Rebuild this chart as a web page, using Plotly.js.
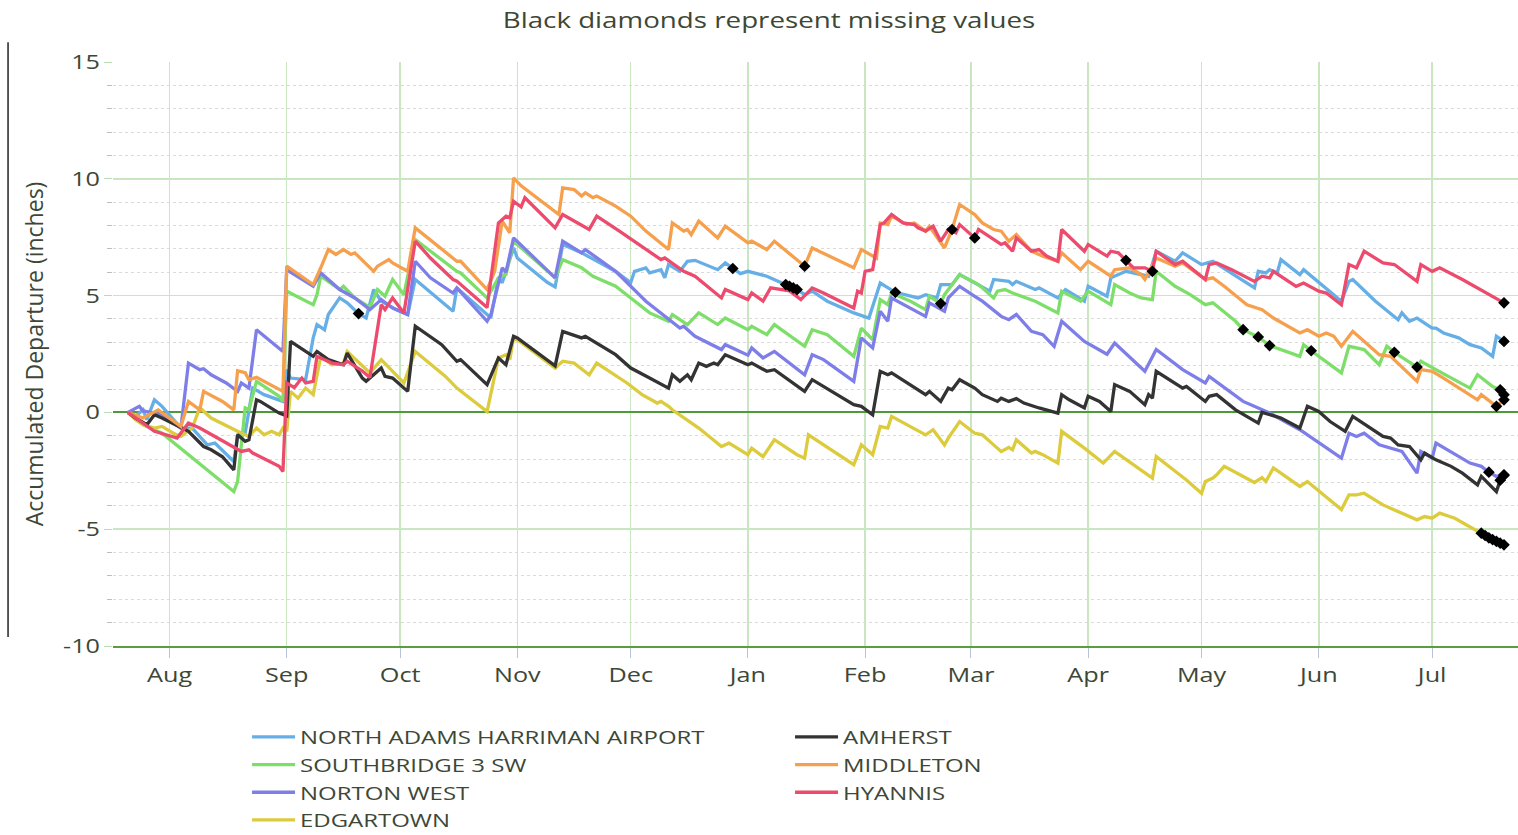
<!DOCTYPE html>
<html><head><meta charset="utf-8">
<script src="https://cdn.plot.ly/plotly-3.0.1.min.js"></script>
<style>html,body{margin:0;padding:0;background:#fff}#chart{width:1518px;height:835px}</style>
</head><body><div id="chart"></div>
<script>
// ---- NORTH ADAMS HARRIMAN AIRPORT ----
const naDates=["2016-07-21","2016-07-23","2016-07-25","2016-07-26","2016-07-28","2016-07-30","2016-08-04","2016-08-07","2016-08-11","2016-08-13","2016-08-18","2016-08-19","2016-08-21","2016-08-23","2016-08-26","2016-08-31",
"2016-09-01","2016-09-02","2016-09-06","2016-09-08","2016-09-09","2016-09-11","2016-09-12","2016-09-15","2016-09-17","2016-09-20","2016-09-22","2016-09-24","2016-09-26","2016-09-30",
"2016-10-03","2016-10-05","2016-10-15","2016-10-16","2016-10-24","2016-10-25","2016-10-27","2016-10-28","2016-10-31",
"2016-11-01","2016-11-09","2016-11-11","2016-11-13","2016-11-18","2016-11-27",
"2016-12-01","2016-12-02","2016-12-05","2016-12-06","2016-12-09","2016-12-10","2016-12-11","2016-12-14","2016-12-16","2016-12-18","2016-12-24","2016-12-26","2016-12-28","2016-12-30",
"2017-01-01","2017-01-06","2017-01-10","2017-01-11","2017-01-12","2017-01-13","2017-01-14","2017-01-16","2017-01-18","2017-01-22","2017-01-29",
"2017-02-02","2017-02-05","2017-02-09","2017-02-15","2017-02-17","2017-02-20","2017-02-21","2017-02-24","2017-02-26",
"2017-03-03","2017-03-06","2017-03-07","2017-03-11","2017-03-12","2017-03-13","2017-03-18","2017-03-19","2017-03-24","2017-03-26","2017-03-31",
"2017-04-01","2017-04-06","2017-04-07","2017-04-11","2017-04-15","2017-04-17","2017-04-19","2017-04-24","2017-04-26",
"2017-05-01","2017-05-04","2017-05-09","2017-05-15","2017-05-16","2017-05-18","2017-05-19","2017-05-21","2017-05-22","2017-05-27","2017-05-28",
"2017-06-07","2017-06-09","2017-06-10","2017-06-16","2017-06-22","2017-06-23","2017-06-25","2017-06-27",
"2017-07-01","2017-07-02","2017-07-04","2017-07-08","2017-07-11","2017-07-14","2017-07-17","2017-07-18","2017-07-20"];
const naValues=[0,-0.17,0.11,-0.31,0.54,0.26,-0.67,-0.67,-1.39,-1.31,-2.10,-0.96,-0.89,1.04,0.76,0.47,
1.83,1.47,1.40,3.19,3.76,3.54,4.19,4.90,4.69,4.23,4.04,5.26,4.76,4.40,
4.19,5.69,4.33,5.33,4.19,4.05,5.76,5.55,7.04,
6.61,5.56,5.37,7.19,6.83,6.04,
5.56,6.04,6.19,5.97,6.11,5.76,6.33,6.04,6.47,6.51,6.11,6.40,6.16,5.94,
6.04,5.83,5.54,5.47,5.40,5.33,5.26,5.04,5.19,4.76,4.26,
4.04,5.54,5.14,4.90,5.04,4.90,5.47,5.47,5.90,
5.47,5.19,5.69,5.61,5.47,5.61,5.26,5.33,4.90,5.26,4.76,
5.40,4.97,5.76,6.04,5.90,5.83,6.90,6.47,6.83,
6.33,6.47,5.97,5.33,6.04,5.97,6.11,5.97,6.54,5.90,6.11,
4.76,5.61,5.69,4.76,3.97,4.26,3.90,4.04,
3.61,3.61,3.40,3.19,2.90,2.76,2.40,3.26,3.04];

// ---- SOUTHBRIDGE 3 SW ----
const sbDates=["2016-07-21","2016-07-25","2016-07-30","2016-08-05","2016-08-12","2016-08-18","2016-08-19","2016-08-21","2016-08-22","2016-08-24","2016-08-30","2016-08-31",
"2016-09-01","2016-09-08","2016-09-09","2016-09-10","2016-09-15","2016-09-16","2016-09-19","2016-09-23","2016-09-25","2016-09-27","2016-09-29",
"2016-10-02","2016-10-05","2016-10-16","2016-10-17","2016-10-24","2016-10-27","2016-10-29","2016-10-31",
"2016-11-01","2016-11-11","2016-11-13","2016-11-18","2016-11-21","2016-11-27",
"2016-12-01","2016-12-06","2016-12-11","2016-12-12","2016-12-16","2016-12-19","2016-12-24","2016-12-26",
"2017-01-01","2017-01-02","2017-01-06","2017-01-08","2017-01-16","2017-01-18","2017-01-22","2017-01-29","2017-01-31",
"2017-02-03","2017-02-05","2017-02-07","2017-02-08","2017-02-13","2017-02-17","2017-02-18","2017-02-21","2017-02-22","2017-02-26",
"2017-03-03","2017-03-07","2017-03-08","2017-03-10","2017-03-12","2017-03-18","2017-03-24","2017-03-25","2017-03-30",
"2017-04-01","2017-04-07","2017-04-08","2017-04-12","2017-04-15","2017-04-18","2017-04-19","2017-04-24","2017-04-28",
"2017-05-02","2017-05-04","2017-05-10","2017-05-12","2017-05-16","2017-05-19","2017-05-22","2017-05-27","2017-05-28","2017-05-30",
"2017-06-07","2017-06-09","2017-06-13","2017-06-17","2017-06-19","2017-06-21","2017-06-27","2017-06-28",
"2017-07-02","2017-07-11","2017-07-13","2017-07-17","2017-07-19","2017-07-20"];
const sbValues=[0,-0.53,-0.89,-1.67,-2.60,-3.39,-2.96,0.19,0.12,1.33,0.69,0.47,
5.19,4.61,5.04,5.83,5.26,5.40,4.90,4.49,5.26,4.97,5.69,
5.04,7.40,6.04,5.97,4.90,5.76,5.90,7.33,
7.19,5.76,6.54,6.19,5.83,5.40,
4.90,4.26,3.90,4.19,3.76,4.26,3.76,4.04,
3.54,3.69,3.33,3.76,2.83,3.54,3.33,2.40,3.61,
3.11,4.83,4.61,5.11,4.76,4.40,4.97,4.66,5.04,5.90,
5.47,4.90,5.19,5.26,5.11,4.76,4.26,5.19,4.76,
5.19,4.61,5.47,5.11,4.90,4.83,6.04,5.40,5.04,
4.61,4.69,3.90,3.54,3.23,2.86,2.69,2.40,2.90,2.64,
1.69,2.83,2.69,2.04,2.83,2.57,1.94,2.19,
1.83,1.04,1.61,1.11,0.97,0.76];

// ---- NORTON WEST ----
const nwDates=["2016-07-21","2016-07-24","2016-07-25","2016-07-30","2016-08-04","2016-08-06","2016-08-09","2016-08-10","2016-08-12","2016-08-16","2016-08-19","2016-08-20","2016-08-22","2016-08-24","2016-08-31",
"2016-09-01","2016-09-08","2016-09-10","2016-09-15","2016-09-19","2016-09-23","2016-09-26","2016-09-29",
"2016-10-03","2016-10-05","2016-10-09","2016-10-15","2016-10-16","2016-10-24","2016-10-25","2016-10-28","2016-10-29","2016-10-31",
"2016-11-11","2016-11-13","2016-11-18","2016-11-19","2016-11-27",
"2016-12-05","2016-12-11","2016-12-14","2016-12-15","2016-12-18","2016-12-25","2016-12-26",
"2017-01-01","2017-01-02","2017-01-05","2017-01-08","2017-01-16","2017-01-18","2017-01-21","2017-01-29","2017-01-31",
"2017-02-03","2017-02-05","2017-02-07","2017-02-08","2017-02-13","2017-02-17","2017-02-18","2017-02-22","2017-02-23","2017-02-26",
"2017-03-02","2017-03-04","2017-03-09","2017-03-11","2017-03-13","2017-03-17","2017-03-20","2017-03-23","2017-03-25","2017-03-31",
"2017-04-06","2017-04-08","2017-04-16","2017-04-19","2017-04-26",
"2017-05-02","2017-05-03","2017-05-12","2017-05-16","2017-05-19","2017-05-27",
"2017-06-07","2017-06-09","2017-06-11","2017-06-13","2017-06-17","2017-06-23","2017-06-27","2017-06-28",
"2017-07-01","2017-07-02","2017-07-11","2017-07-14","2017-07-16","2017-07-18","2017-07-20"];
const nwValues=[0,0.26,0.07,-0.10,-0.67,2.11,1.83,1.87,1.61,1.26,0.90,1.26,1.04,3.54,2.61,
6.10,5.40,5.97,5.26,4.90,4.40,4.83,4.47,
4.19,6.47,5.76,5.11,5.33,3.90,4.19,6.19,6.00,7.47,
5.76,7.33,6.83,6.97,6.04,
4.76,3.97,3.61,3.69,3.26,2.69,2.90,
2.45,2.76,2.33,2.61,1.61,2.47,2.26,1.33,3.19,
2.76,4.33,3.90,4.90,4.47,4.11,4.69,4.33,4.90,5.40,
4.97,4.76,4.11,3.97,4.19,3.47,3.33,2.83,3.90,3.04,
2.49,2.97,1.76,2.69,1.83,
1.26,1.54,0.47,0.19,-0.03,-0.74,
-1.96,-0.89,-1.03,-0.89,-1.39,-1.67,-2.60,-1.67,
-1.96,-1.31,-2.17,-2.31,-2.56,-2.74,-2.67];

// ---- EDGARTOWN ----
const edDates=["2016-07-21","2016-07-23","2016-07-25","2016-07-28","2016-07-30","2016-08-02","2016-08-04","2016-08-07","2016-08-09","2016-08-12","2016-08-19","2016-08-22","2016-08-24","2016-08-26","2016-08-28","2016-08-30","2016-08-31",
"2016-09-01","2016-09-02","2016-09-04","2016-09-06","2016-09-08","2016-09-10","2016-09-13","2016-09-16","2016-09-17","2016-09-23","2016-09-26",
"2016-10-02","2016-10-05","2016-10-13","2016-10-16","2016-10-24","2016-10-27","2016-10-29","2016-10-30","2016-10-31",
"2016-11-02","2016-11-11","2016-11-13","2016-11-16","2016-11-20","2016-11-22","2016-11-30",
"2016-12-04","2016-12-08","2016-12-09","2016-12-11","2016-12-12","2016-12-19","2016-12-25","2016-12-27",
"2017-01-01","2017-01-02","2017-01-05","2017-01-08","2017-01-14","2017-01-16","2017-01-17","2017-01-29","2017-01-31",
"2017-02-03","2017-02-05","2017-02-07","2017-02-08","2017-02-12","2017-02-13","2017-02-17","2017-02-19","2017-02-22","2017-02-23","2017-02-26",
"2017-03-02","2017-03-04","2017-03-07","2017-03-09","2017-03-11","2017-03-12","2017-03-13","2017-03-17","2017-03-18","2017-03-20","2017-03-24","2017-03-25","2017-03-31",
"2017-04-05","2017-04-08","2017-04-18","2017-04-19","2017-04-27",
"2017-05-01","2017-05-02","2017-05-04","2017-05-05","2017-05-07","2017-05-15","2017-05-17","2017-05-18","2017-05-20","2017-05-27","2017-05-29",
"2017-06-07","2017-06-09","2017-06-11","2017-06-13","2017-06-18","2017-06-27","2017-06-29",
"2017-07-01","2017-07-03","2017-07-07","2017-07-13","2017-07-14","2017-07-15","2017-07-16","2017-07-17","2017-07-18","2017-07-19","2017-07-20"];
const edValues=[0,-0.31,-0.53,-0.67,-0.60,-0.89,-1.03,-0.67,0.20,-0.24,-0.81,-1.03,-0.67,-0.96,-0.81,-0.96,-0.67,
-0.81,0.90,0.61,1.04,0.76,2.40,2.04,2.11,2.61,1.69,2.26,
1.26,2.61,1.54,1.04,0.04,2.33,2.47,2.26,3.19,
3.00,1.90,2.19,2.11,1.61,2.11,1.26,
0.76,0.40,0.47,0.26,0.11,-0.67,-1.46,-1.31,
-1.81,-1.53,-1.89,-1.17,-1.81,-1.96,-0.96,-2.24,-1.39,
-1.81,-0.60,-0.67,-0.17,-0.53,-0.60,-0.96,-0.74,-1.39,-1.10,-0.39,
-0.89,-0.96,-1.39,-1.67,-1.50,-1.60,-1.17,-1.74,-1.67,-1.81,-2.17,-0.81,-1.53,
-2.17,-1.67,-2.81,-1.89,-2.89,
-3.46,-2.96,-2.81,-2.67,-2.31,-3.00,-2.79,-2.96,-2.38,-3.17,-2.96,
-4.16,-3.53,-3.53,-3.46,-3.96,-4.60,-4.46,
-4.53,-4.31,-4.53,-5.10,-5.17,-5.27,-5.37,-5.45,-5.52,-5.60,-5.67];

// ---- AMHERST ----
const amDates=["2016-07-21","2016-07-23","2016-07-26","2016-07-28","2016-07-30","2016-08-04","2016-08-06","2016-08-10","2016-08-12","2016-08-15","2016-08-18","2016-08-19","2016-08-21","2016-08-22","2016-08-24","2016-08-25","2016-08-30",
"2016-09-01","2016-09-02","2016-09-08","2016-09-09","2016-09-12","2016-09-16","2016-09-17","2016-09-21","2016-09-22","2016-09-26","2016-09-27","2016-09-29",
"2016-10-03","2016-10-05","2016-10-12","2016-10-16","2016-10-17","2016-10-24","2016-10-27","2016-10-29","2016-10-31",
"2016-11-01","2016-11-11","2016-11-13","2016-11-18","2016-11-19","2016-11-27",
"2016-12-01","2016-12-05","2016-12-11","2016-12-12","2016-12-14","2016-12-16","2016-12-17","2016-12-19","2016-12-21","2016-12-23","2016-12-24","2016-12-26",
"2017-01-01","2017-01-02","2017-01-06","2017-01-08","2017-01-16","2017-01-18","2017-01-29","2017-01-31",
"2017-02-03","2017-02-05","2017-02-07","2017-02-08","2017-02-17","2017-02-18","2017-02-21","2017-02-23","2017-02-24","2017-02-26",
"2017-03-02","2017-03-04","2017-03-06","2017-03-08","2017-03-09","2017-03-11","2017-03-13","2017-03-15","2017-03-19","2017-03-24","2017-03-25","2017-03-27","2017-03-31",
"2017-04-01","2017-04-04","2017-04-07","2017-04-08","2017-04-12","2017-04-16","2017-04-17","2017-04-18","2017-04-19","2017-04-26","2017-04-27",
"2017-05-02","2017-05-03","2017-05-05","2017-05-10","2017-05-16","2017-05-17","2017-05-22","2017-05-27","2017-05-29",
"2017-06-01","2017-06-04","2017-06-08","2017-06-10","2017-06-12","2017-06-18","2017-06-20","2017-06-22","2017-06-25","2017-06-28","2017-06-29",
"2017-07-02","2017-07-06","2017-07-09","2017-07-13","2017-07-14","2017-07-18","2017-07-19","2017-07-20"];
const amValues=[0,-0.24,-0.53,-0.10,-0.24,-0.67,-0.81,-1.46,-1.60,-1.90,-2.46,-0.96,-1.24,-1.17,0.54,0.47,-0.03,
-0.15,3.04,2.40,2.61,2.26,2.04,2.54,1.47,1.33,1.90,1.54,1.47,
0.90,3.69,2.90,2.19,2.26,1.19,2.33,2.04,3.26,
3.19,1.99,3.47,3.19,3.26,2.47,
1.90,1.56,1.04,1.61,1.33,1.61,1.40,2.11,1.97,2.11,2.04,2.47,
2.04,2.11,1.76,1.83,0.90,1.40,0.33,0.26,
-0.10,1.76,1.61,1.69,0.76,0.90,0.47,1.04,0.97,1.40,
1.04,0.76,0.61,0.47,0.61,0.47,0.59,0.40,0.19,-0.03,0.76,0.54,0.19,
0.69,0.47,0.04,1.19,0.90,0.33,0.76,0.61,1.76,1.04,1.11,
0.47,0.69,0.76,0.11,-0.46,0.00,-0.24,-0.67,0.26,
0.04,-0.39,-0.81,-0.17,-0.39,-1.03,-1.10,-1.39,-1.46,-2.03,-1.74,
-2.03,-2.31,-2.60,-3.10,-2.74,-3.39,-2.90,-2.70];

// ---- MIDDLETON ----
const miDates=["2016-07-21","2016-07-25","2016-07-29","2016-08-04","2016-08-06","2016-08-09","2016-08-10","2016-08-15","2016-08-18","2016-08-19","2016-08-21","2016-08-22","2016-08-24","2016-08-31",
"2016-09-01","2016-09-08","2016-09-10","2016-09-12","2016-09-14","2016-09-16","2016-09-18","2016-09-19","2016-09-24","2016-09-25","2016-09-28","2016-09-29",
"2016-10-03","2016-10-05","2016-10-16","2016-10-17","2016-10-24","2016-10-26","2016-10-28","2016-10-30","2016-10-31",
"2016-11-02","2016-11-12","2016-11-13","2016-11-16","2016-11-18","2016-11-19","2016-11-21","2016-11-22","2016-11-27",
"2016-12-01","2016-12-05","2016-12-11","2016-12-12","2016-12-15","2016-12-16","2016-12-17","2016-12-19","2016-12-24","2016-12-26",
"2017-01-01","2017-01-02","2017-01-06","2017-01-08","2017-01-16","2017-01-18","2017-01-29","2017-01-31",
"2017-02-04","2017-02-05","2017-02-07","2017-02-08","2017-02-12","2017-02-14","2017-02-17","2017-02-18","2017-02-22","2017-02-24","2017-02-26",
"2017-03-02","2017-03-04","2017-03-07","2017-03-09","2017-03-11","2017-03-13","2017-03-17","2017-03-20","2017-03-24","2017-03-25","2017-03-30",
"2017-04-01","2017-04-07","2017-04-08","2017-04-12","2017-04-15","2017-04-16","2017-04-19","2017-04-24","2017-04-26",
"2017-05-02","2017-05-04","2017-05-07","2017-05-13","2017-05-17","2017-05-20","2017-05-27","2017-05-29",
"2017-06-01","2017-06-03","2017-06-05","2017-06-07","2017-06-10","2017-06-12","2017-06-17","2017-06-20","2017-06-27","2017-06-28",
"2017-07-01","2017-07-04","2017-07-06","2017-07-13","2017-07-14","2017-07-18","2017-07-20"];
const miValues=[0,-0.24,0.11,-0.60,0.47,0.11,0.90,0.47,0.11,1.78,1.70,1.40,1.50,0.90,
6.26,5.47,6.19,6.97,6.76,6.97,6.76,6.83,6.04,6.26,6.54,6.40,
6.04,7.90,6.47,6.47,5.26,6.04,8.19,7.69,10.04,
9.70,8.47,9.61,9.54,9.26,9.40,9.19,9.26,8.83,
8.40,7.76,6.97,8.11,7.76,7.83,7.61,8.19,7.47,7.97,
7.26,7.33,6.97,7.33,6.26,7.04,6.19,6.97,
6.61,8.11,8.04,8.40,8.04,8.11,7.76,7.97,7.04,7.83,8.90,
8.47,8.11,7.83,7.76,7.33,7.61,6.90,6.69,6.47,6.83,6.11,
6.47,5.83,6.11,6.19,5.90,5.69,6.61,6.26,6.40,
5.69,5.76,5.40,4.61,4.40,4.04,3.40,3.54,
3.26,3.40,3.26,2.83,3.47,3.19,2.47,2.40,1.33,1.83,
1.76,1.47,1.26,0.54,0.76,0.26,0.54];

// ---- HYANNIS ----
const hyDates=["2016-07-21","2016-07-28","2016-08-03","2016-08-06","2016-08-07","2016-08-09","2016-08-13","2016-08-18","2016-08-20","2016-08-22","2016-08-23","2016-08-30","2016-08-31",
"2016-09-01","2016-09-03","2016-09-05","2016-09-06","2016-09-08","2016-09-09","2016-09-13","2016-09-16","2016-09-17","2016-09-21","2016-09-23","2016-09-26","2016-09-27","2016-09-29",
"2016-10-02","2016-10-05","2016-10-09","2016-10-15","2016-10-16","2016-10-24","2016-10-27","2016-10-29","2016-10-30","2016-10-31",
"2016-11-02","2016-11-03","2016-11-11","2016-11-13","2016-11-20","2016-11-22","2016-11-28",
"2016-12-07","2016-12-09","2016-12-10","2016-12-15","2016-12-18","2016-12-25","2016-12-26",
"2017-01-01","2017-01-02","2017-01-05","2017-01-07","2017-01-12","2017-01-15","2017-01-18","2017-01-21","2017-01-29","2017-01-30","2017-01-31",
"2017-02-01","2017-02-03","2017-02-05","2017-02-06","2017-02-08","2017-02-11","2017-02-14","2017-02-15","2017-02-17","2017-02-19","2017-02-21","2017-02-23","2017-02-25","2017-02-26",
"2017-03-02","2017-03-03","2017-03-09","2017-03-10","2017-03-12","2017-03-13","2017-03-17","2017-03-19","2017-03-21","2017-03-24","2017-03-25","2017-03-31",
"2017-04-01","2017-04-06","2017-04-07","2017-04-09","2017-04-11","2017-04-13","2017-04-16","2017-04-18","2017-04-19","2017-04-24","2017-04-26",
"2017-05-02","2017-05-03","2017-05-05","2017-05-09","2017-05-15","2017-05-17","2017-05-19","2017-05-20","2017-05-26","2017-05-28",
"2017-06-01","2017-06-03","2017-06-07","2017-06-09","2017-06-11","2017-06-13","2017-06-18","2017-06-21","2017-06-27","2017-06-28",
"2017-07-01","2017-07-03","2017-07-09","2017-07-20"];
const hyValues=[0,-0.81,-1.10,-0.46,-0.53,-0.67,-1.03,-1.46,-1.67,-1.60,-1.74,-2.31,-2.53,
1.26,1.06,1.47,1.26,1.33,2.40,2.11,2.04,2.19,1.77,1.49,4.61,4.40,4.90,
4.26,7.33,6.61,5.69,5.62,4.49,8.11,8.40,8.33,9.04,
8.80,9.19,7.90,8.47,7.83,8.40,7.76,
6.76,6.54,6.61,6.04,5.83,4.90,5.26,
4.83,5.11,4.76,5.33,5.20,4.83,5.33,5.11,4.47,5.19,5.11,
6.04,6.11,8.04,8.11,8.47,8.11,8.04,7.90,7.76,7.97,7.33,7.83,7.69,8.04,
7.47,7.83,7.19,7.26,6.90,7.47,6.90,6.97,6.69,6.47,7.83,6.90,
7.19,6.69,6.90,6.83,6.51,6.19,6.19,6.04,6.90,6.33,6.47,
5.69,6.33,6.40,6.11,5.61,5.83,5.76,6.04,5.40,5.54,
5.19,5.11,4.61,6.33,6.19,6.90,6.40,6.33,5.61,6.33,
6.04,6.19,5.69,4.69];

// ---- missing values (black diamonds) ----
const missingDates=["2016-09-20","2016-12-28","2017-01-11","2017-01-12","2017-01-13","2017-01-14","2017-02-09","2017-07-20",
"2017-01-16","2017-02-24","2017-07-18","2017-07-20",
"2017-03-02","2017-04-11","2017-04-18","2017-07-20",
"2017-02-21","2017-05-12","2017-05-16","2017-05-19","2017-05-30","2017-06-21","2017-06-27","2017-07-19","2017-07-20",
"2017-07-16","2017-07-20",
"2017-07-19","2017-07-20",
"2017-07-14","2017-07-15","2017-07-16","2017-07-17","2017-07-18","2017-07-19","2017-07-20"];
const missingValues=[4.23,6.16,5.47,5.40,5.33,5.26,5.14,3.04,
6.26,7.83,0.26,0.54,
7.47,6.51,6.04,4.69,
4.66,3.54,3.23,2.86,2.64,2.57,1.94,0.97,0.76,
-2.56,-2.67,
-2.90,-2.70,
-5.17,-5.27,-5.37,-5.45,-5.52,-5.60,-5.67];

const stationNames=["NORTH ADAMS HARRIMAN AIRPORT","SOUTHBRIDGE 3 SW","NORTON WEST","EDGARTOWN","AMHERST","MIDDLETON","HYANNIS"];
const stationDates=[naDates,sbDates,nwDates,edDates,amDates,miDates,hyDates];
const stationValues=[naValues,sbValues,nwValues,edValues,amValues,miValues,hyValues];
const stationColors=["#66aee6","#7ddf6a","#7e7ee8","#dccb3c","#333333","#f6a04d","#ec4b6e"];
const legendRanks=[1,3,5,7,2,4,6];
const yTickVals=[-10,-5,0,5,10,15];
const yTickText=["-10","-5","0","5","10","15"];

const txt='#3d4736';
const traces=stationNames.map((n,i)=>({
  type:'scatter',mode:'lines',name:n,x:stationDates[i],y:stationValues[i],
  line:{color:stationColors[i],width:3.3},legendrank:legendRanks[i]
}));
traces.push({type:'scatter',mode:'markers',x:missingDates,y:missingValues,showlegend:false,
  marker:{symbol:'diamond',size:9,color:'#000'},hoverinfo:'skip'});

const layout={
  width:1518,height:835,
  margin:{l:113,r:0,t:62,b:189,autoexpand:false},
  paper_bgcolor:'#fff',plot_bgcolor:'#fff',
  font:{family:'"Open Sans", sans-serif',color:txt},
  title:{text:'Black diamonds represent missing values',font:{size:22,color:txt},
    xref:'container',x:0.5066,xanchor:'center',yref:'container',y:0.976,yanchor:'middle'},
  xaxis:{type:'date',range:['2016-07-17 01:00','2017-07-23 17:00'],tick0:'2016-08-01',dtick:'M1',tickformat:'%b',
    ticks:'outside',ticklen:10,tickcolor:'#b9c3d6',tickwidth:1,
    showgrid:true,gridcolor:'#c8e6c0',gridwidth:1.5,
    showline:true,linecolor:'#5a9e3e',linewidth:2,zeroline:false,
    tickfont:{size:20,color:txt}},
  yaxis:{range:[-10,15],tickmode:'array',tickvals:yTickVals,ticktext:yTickText,ticks:'outside',ticklen:8,tickcolor:'#b8ddb0',
    showgrid:true,gridcolor:'#c8e6c0',gridwidth:1.5,
    zeroline:true,zerolinecolor:'#4e9a3a',zerolinewidth:2,
    tickfont:{size:20,color:txt},
    title:{text:'Accumulated Departure (inches)',font:{size:23,color:txt},standoff:20},
    minor:{tickmode:'linear',tick0:0,dtick:1,ticks:'outside',ticklen:5,tickcolor:'#bdbdbd',showgrid:true,gridcolor:'#dadada',griddash:'dot',gridwidth:1}},
  legend:{orientation:'h',x:0.0954,xanchor:'left',y:-0.1233,yanchor:'top',
    font:{size:19,color:txt},entrywidth:485,entrywidthmode:'pixels',itemwidth:43,traceorder:'normal'},
  shapes:[{type:'line',xref:'paper',yref:'paper',x0:-0.0747,x1:-0.0747,y0:0.0154,y1:1.034,line:{color:'#222',width:1.5}}],
  showlegend:true
};
Plotly.newPlot('chart',traces,layout,{displayModeBar:false,staticPlot:true}).then(function(gd){
  // the reference typography is horizontally wide; widen the glyphs of these labels
  var k=1.26;
  gd.querySelectorAll('text.legendtext, g.xtick text, g.ytick text, text.gtitle').forEach(function(t){
    var w=t.getComputedTextLength();
    if(w>0){t.setAttribute('textLength',(w*k).toFixed(1));t.setAttribute('lengthAdjust','spacingAndGlyphs');}
  });
});
</script>
</body></html>
